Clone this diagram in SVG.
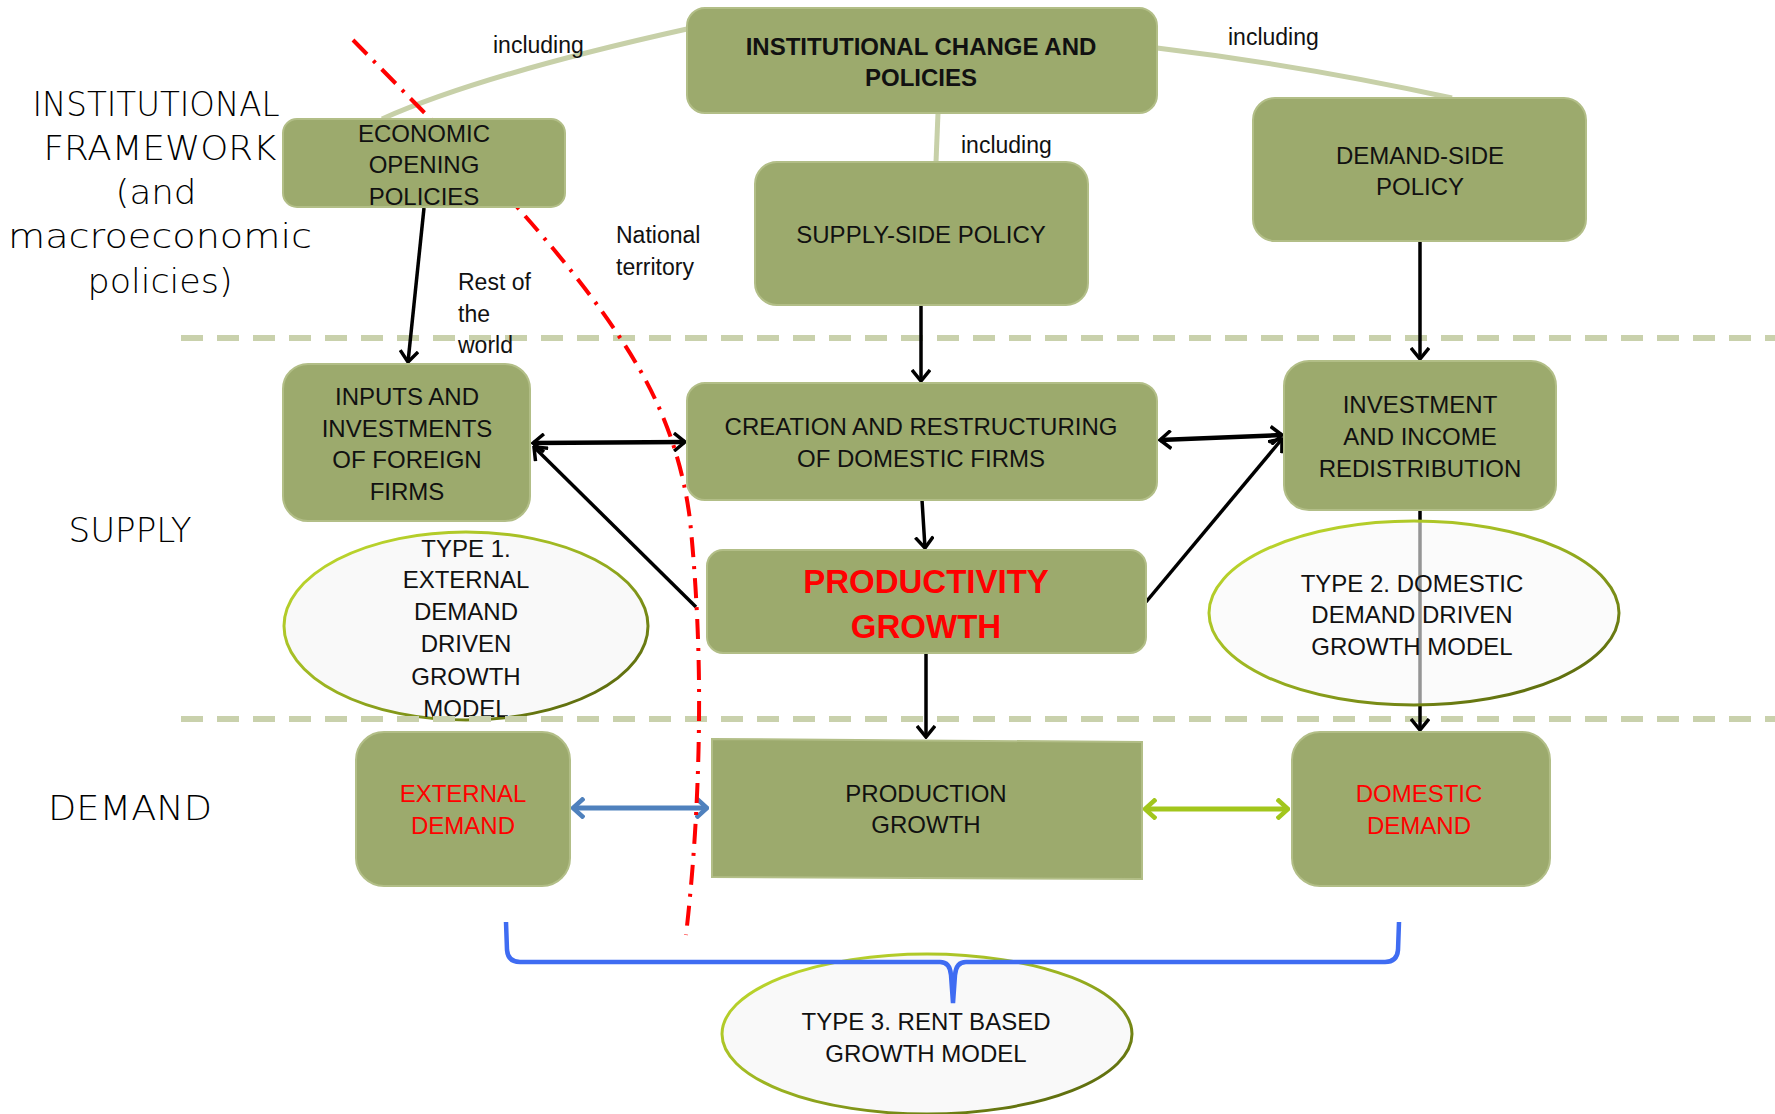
<svg xmlns="http://www.w3.org/2000/svg" width="1775" height="1114" viewBox="0 0 1775 1114">
<style>
.box{fill:#9caa6d;stroke:#b2be87;stroke-width:2}
.t{font-family:"Liberation Sans",Arial,sans-serif;font-size:24px;fill:#111;text-anchor:middle}
.red{fill:#ff0000}
.bold{font-weight:bold}
.big{font-family:"DejaVu Sans","Liberation Sans",sans-serif;font-weight:300;font-size:34px;fill:#000;text-anchor:middle}
.small{font-family:"Liberation Sans",Arial,sans-serif;font-size:23px;fill:#111}
.ell{fill:#f9f9f9;stroke:url(#eg);stroke-width:3}
.incl{fill:none;stroke:#c7d0a8;stroke-width:5}
.arr{fill:none;stroke:#000;stroke-width:3.5}
.band{fill:none;stroke:#c9d1ac;stroke-width:6;stroke-dasharray:22 14}
</style>
<defs>
<linearGradient id="eg" x1="0" y1="0" x2="1" y2="1">
<stop offset="0" stop-color="#c6e030"/>
<stop offset="0.5" stop-color="#98b020"/>
<stop offset="1" stop-color="#4a5608"/>
</linearGradient>
<marker id="ah" viewBox="0 0 14 20" refX="12" refY="10" markerWidth="14" markerHeight="20" markerUnits="userSpaceOnUse" orient="auto-start-reverse">
<path d="M1,1 L12,10 L1,19" fill="none" stroke="#000" stroke-width="3.5"/>
</marker>
<marker id="ahb" viewBox="0 0 14 22" refX="12" refY="11" markerWidth="14" markerHeight="22" markerUnits="userSpaceOnUse" orient="auto-start-reverse">
<path d="M1,1 L12,11 L1,21" fill="none" stroke="#4f81bd" stroke-width="4.5"/>
</marker>
<marker id="ahg" viewBox="0 0 14 22" refX="12" refY="11" markerWidth="14" markerHeight="22" markerUnits="userSpaceOnUse" orient="auto-start-reverse">
<path d="M1,1 L12,11 L1,21" fill="none" stroke="#a2c61c" stroke-width="4.5"/>
</marker>
</defs>
<rect width="1775" height="1114" fill="#fff"/>

<g id="type1">
<ellipse class="ell" cx="466" cy="626" rx="182" ry="94"/>
<text class="t" x="466" y="557">TYPE 1.</text>
<text class="t" x="466" y="588">EXTERNAL</text>
<text class="t" x="466" y="620">DEMAND</text>
<text class="t" x="466" y="652">DRIVEN</text>
<text class="t" x="466" y="685">GROWTH</text>
<text class="t" x="466" y="717">MODEL</text>
</g>

<g id="bands">
<line class="band" x1="181" y1="338" x2="1775" y2="338"/>
<line class="band" x1="181" y1="719" x2="1775" y2="719"/>
</g>

<g id="connectors">
<path class="incl" d="M687,29 Q480,75 382,119"/>
<path class="incl" d="M1157,48 Q1300,65 1452,98"/>
<path class="incl" d="M938,113 L936,162"/>
<path class="arr" d="M424,208 L408,362" marker-end="url(#ah)"/>
<path class="arr" d="M921,305 L921,381" marker-end="url(#ah)"/>
<path class="arr" d="M1420,241 L1420,359" marker-end="url(#ah)"/>
<path class="arr" style="stroke-width:4.5" d="M533,443 L685,442" marker-start="url(#ah)" marker-end="url(#ah)"/>
<path class="arr" style="stroke-width:4.5" d="M1160,440 L1282,435" marker-start="url(#ah)" marker-end="url(#ah)"/>
<path class="arr" d="M696,607 L534,447" marker-end="url(#ah)"/>
<path class="arr" d="M1146,602 L1282,439" marker-end="url(#ah)"/>
<path class="arr" d="M922,500 L925,548" marker-end="url(#ah)"/>
<path class="arr" d="M926,653 L926,737" marker-end="url(#ah)"/>
<path class="arr" d="M1420,510 L1420,730" marker-end="url(#ah)"/>
<path fill="none" stroke="#4f81bd" stroke-width="5" d="M573,808 L707,808" marker-start="url(#ahb)" marker-end="url(#ahb)"/>
<path fill="none" stroke="#a2c61c" stroke-width="5" d="M1145,809 L1288,809" marker-start="url(#ahg)" marker-end="url(#ahg)"/>
</g>

<g id="labels">
<text class="big" x="156" y="116" textLength="247" lengthAdjust="spacingAndGlyphs">INSTITUTIONAL</text>
<text class="big" x="160" y="160" textLength="233" lengthAdjust="spacingAndGlyphs">FRAMEWORK</text>
<text class="big" x="156" y="204" textLength="81" lengthAdjust="spacingAndGlyphs">(and</text>
<text class="big" x="160" y="248" textLength="304" lengthAdjust="spacingAndGlyphs">macroeconomic</text>
<text class="big" x="160" y="293" textLength="145" lengthAdjust="spacingAndGlyphs">policies)</text>
<text class="big" x="130" y="542" textLength="123" lengthAdjust="spacingAndGlyphs">SUPPLY</text>
<text class="big" x="130" y="820" textLength="164" lengthAdjust="spacingAndGlyphs">DEMAND</text>
<text class="small" x="493" y="53">including</text>
<text class="small" x="1228" y="45">including</text>
<text class="small" x="961" y="153">including</text>
<text class="small" x="616" y="243">National</text>
<text class="small" x="616" y="275">territory</text>
<text class="small" x="458" y="290">Rest of</text>
<text class="small" x="458" y="322">the</text>
<text class="small" x="458" y="353">world</text>
</g>

<g id="border">
<path d="M353,40 L518,208 Q600,300 640,370 Q680,440 690,520 Q700,620 699,720 Q698,830 686,935" fill="none" stroke="#ff0000" stroke-width="4" stroke-dasharray="20 9 3 9"/>
</g>

<g id="type2">
<ellipse class="ell" style="fill-opacity:0.6" cx="1414" cy="613" rx="205" ry="92"/>
<text class="t" x="1412" y="592">TYPE 2. DOMESTIC</text>
<text class="t" x="1412" y="623">DEMAND DRIVEN</text>
<text class="t" x="1412" y="655">GROWTH MODEL</text>
</g>

<g id="icp">
<rect class="box" x="687" y="8" width="470" height="105" rx="18"/>
<text class="t bold" x="921" y="55">INSTITUTIONAL CHANGE AND</text>
<text class="t bold" x="921" y="86">POLICIES</text>
</g>
<g id="eop">
<rect class="box" x="283" y="119" width="282" height="88" rx="14"/>
<text class="t" x="424" y="142">ECONOMIC</text>
<text class="t" x="424" y="173">OPENING</text>
<text class="t" x="424" y="205">POLICIES</text>
</g>
<g id="ssp">
<rect class="box" x="755" y="162" width="333" height="143" rx="22"/>
<text class="t" x="921" y="243">SUPPLY-SIDE POLICY</text>
</g>
<g id="dsp">
<rect class="box" x="1253" y="98" width="333" height="143" rx="22"/>
<text class="t" x="1420" y="164">DEMAND-SIDE</text>
<text class="t" x="1420" y="195">POLICY</text>
</g>
<g id="iif">
<rect class="box" x="283" y="364" width="247" height="157" rx="25"/>
<text class="t" x="407" y="405">INPUTS AND</text>
<text class="t" x="407" y="437">INVESTMENTS</text>
<text class="t" x="407" y="468">OF FOREIGN</text>
<text class="t" x="407" y="500">FIRMS</text>
</g>
<g id="crd">
<rect class="box" x="687" y="383" width="470" height="117" rx="18"/>
<text class="t" x="921" y="435">CREATION AND RESTRUCTURING</text>
<text class="t" x="921" y="467">OF DOMESTIC FIRMS</text>
</g>
<g id="iir">
<rect class="box" x="1284" y="361" width="272" height="149" rx="25"/>
<text class="t" x="1420" y="413">INVESTMENT</text>
<text class="t" x="1420" y="445">AND INCOME</text>
<text class="t" x="1420" y="477">REDISTRIBUTION</text>
</g>
<g id="pg">
<rect class="box" x="707" y="550" width="439" height="103" rx="16"/>
<text class="t bold red" style="font-size:33px" x="926" y="593">PRODUCTIVITY</text>
<text class="t bold red" style="font-size:33px" x="926" y="638">GROWTH</text>
</g>
<g id="prod">
<polygon class="box" points="712,739 1142,742 1142,879 712,877"/>
<text class="t" x="926" y="802">PRODUCTION</text>
<text class="t" x="926" y="833">GROWTH</text>
</g>
<g id="ext">
<rect class="box" x="356" y="732" width="214" height="154" rx="28"/>
<text class="t red" x="463" y="802">EXTERNAL</text>
<text class="t red" x="463" y="834">DEMAND</text>
</g>
<g id="dom">
<rect class="box" x="1292" y="732" width="258" height="154" rx="28"/>
<text class="t red" x="1419" y="802">DOMESTIC</text>
<text class="t red" x="1419" y="834">DEMAND</text>
</g>

<g id="type3">
<ellipse class="ell" cx="927" cy="1034" rx="205" ry="80"/>
<text class="t" x="926" y="1030">TYPE 3. RENT BASED</text>
<text class="t" x="926" y="1062">GROWTH MODEL</text>
</g>

<g id="brace">
<path d="M506,922 L507,950 Q508,962 520,962 L940,962 Q950,962 951,975 L953,1003 L955,975 Q956,962 966,962 L1385,962 Q1397,962 1398,950 L1399,922" fill="none" stroke="#3f6cf2" stroke-width="4.5"/>
</g>
</svg>
